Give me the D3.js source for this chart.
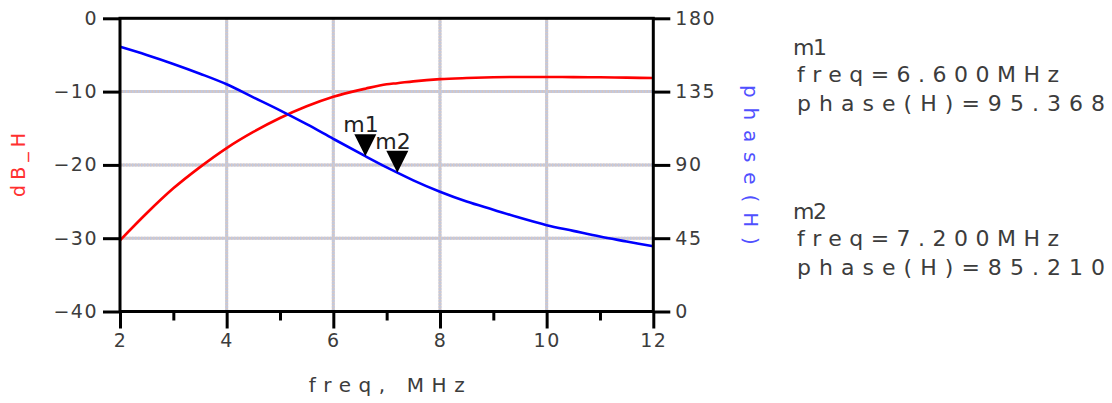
<!DOCTYPE html>
<html>
<head>
<meta charset="utf-8">
<script src="https://cdn.jsdelivr.net/npm/d3@7"></script>
<style>
  html, body { margin: 0; padding: 0; background: #fff; }
  svg { display: block; }
  text { font-family: "DejaVu Sans", "Liberation Sans", sans-serif; fill: #3c3c3c; }
</style>
</head>
<body>
<svg id="chart" width="1112" height="403"></svg>
<script>
// Frequency sweep (MHz)
const freq = [2, 2.5, 3, 3.5, 4, 4.5, 5, 5.5, 6, 6.6, 7, 7.2, 7.5, 8, 8.5, 9, 9.5, 10, 10.5, 11, 11.5, 12];
// Magnitude of H in dB (left axis)
const dbH = [-30.3, -26.6, -23.2, -20.3, -17.7, -15.5, -13.6, -12.0, -10.7, -9.6, -9.0, -8.85, -8.6, -8.3, -8.15, -8.05, -8.0, -8.0, -8.02, -8.05, -8.1, -8.15];
// Phase of H in degrees (right axis)
const phaseH = [162.5, 157.5, 152, 146, 139.5, 131.5, 123.5, 115, 106, 95.368, 88.5, 85.21, 80.5, 73.5, 67.5, 62.5, 57.5, 53, 49.5, 46, 43, 40];

// Axis ticks
const freqTicks = [2, 4, 6, 8, 10, 12];
const freqMinorTicks = [3, 5, 7, 9, 11];
const dbTicks = [0, -10, -20, -30, -40];
const phaseTicks = [0, 45, 90, 135, 180];

// Markers on the phase trace
const markerNames = ["m1", "m2"];
const markerFreq = [6.6, 7.2];
const markerPhase = [95.368, 85.21];

const svg = d3.select("#chart");
const L = 120, R = 653.3, T = 18.3, B = 311.5;

const x = d3.scaleLinear().domain([2, 12]).range([L, R]);
const yL = d3.scaleLinear().domain([-40, 0]).range([B, T]);
const yR = d3.scaleLinear().domain([0, 180]).range([B, T]);

const fmtDb = d => d < 0 ? "\u2212" + Math.abs(d) : String(d);

// grid: two interleaved dotted strokes
const grid = svg.append("g");
function gridLine(x1, y1, x2, y2) {
  grid.append("line").attr("x1", x1).attr("y1", y1).attr("x2", x2).attr("y2", y2)
    .attr("stroke", "#d6c6c2").attr("stroke-width", 3);
  grid.append("line").attr("x1", x1).attr("y1", y1).attr("x2", x2).attr("y2", y2)
    .attr("stroke", "#bfcae3").attr("stroke-width", 3).attr("stroke-dasharray", "1.5,1.5");
}
freqTicks.filter(d => d > 2 && d < 12).forEach(d => gridLine(x(d), T, x(d), B));
dbTicks.filter(d => d > -40 && d < 0).forEach(d => gridLine(L, yL(d), R, yL(d)));

// traces
const lineDb = d3.line().x((d, i) => x(freq[i])).y(d => yL(d)).curve(d3.curveMonotoneX);
const linePh = d3.line().x((d, i) => x(freq[i])).y(d => yR(d)).curve(d3.curveMonotoneX);
svg.append("path").attr("d", lineDb(dbH)).attr("fill", "none").attr("stroke", "#ff0000").attr("stroke-width", 2.6);
svg.append("path").attr("d", linePh(phaseH)).attr("fill", "none").attr("stroke", "#0000ff").attr("stroke-width", 2.6);

// frame
svg.append("rect").attr("x", L).attr("y", T).attr("width", R - L).attr("height", B - T)
  .attr("fill", "none").attr("stroke", "#000").attr("stroke-width", 3);

// axes
function styleAxis(g) {
  g.select(".domain").remove();
  g.selectAll(".tick line").attr("stroke", "#000").attr("stroke-width", 3);
  g.selectAll(".tick text").style("font-size", "19px").style("letter-spacing", "1.5px").attr("fill", "#3c3c3c");
}
svg.append("g").attr("transform", `translate(${L},0)`)
  .call(d3.axisLeft(yL).tickValues(dbTicks).tickFormat(fmtDb).tickSize(17).tickPadding(5))
  .call(styleAxis);
svg.append("g").attr("transform", `translate(${R},0)`)
  .call(d3.axisRight(yR).tickValues(phaseTicks).tickSize(17).tickPadding(5))
  .call(styleAxis);
svg.append("g").attr("transform", `translate(0,${B})`)
  .call(d3.axisBottom(x).tickValues(freqTicks).tickSize(17).tickPadding(5))
  .call(styleAxis);
svg.append("g").attr("transform", `translate(0,${B})`)
  .call(d3.axisBottom(x).tickValues(freqMinorTicks).tickSize(9).tickFormat(""))
  .call(styleAxis);

// axis titles
svg.append("text").attr("transform", `translate(25,${(T + B) / 2}) rotate(-90)`)
  .attr("text-anchor", "middle").style("font-size", "19px").style("fill", "#ff3030")
  .attr("textLength", 64).attr("lengthAdjust", "spacing").text("dB_H");
svg.append("text").attr("transform", `translate(744,${(T + B) / 2}) rotate(90)`)
  .attr("text-anchor", "middle").style("font-size", "20px").style("fill", "#5050ff")
  .attr("textLength", 160).attr("lengthAdjust", "spacing").text("phase(H)");
svg.append("text").attr("x", (L + R) / 2).attr("y", 392)
  .attr("text-anchor", "middle").style("font-size", "20px")
  .attr("textLength", 156).attr("lengthAdjust", "spacing").text("freq, MHz");

// marker triangles and labels
markerNames.forEach((name, i) => {
  const px = x(markerFreq[i]), py = yR(markerPhase[i]);
  svg.append("path").attr("d", `M${px},${py} L${px - 11},${py - 22} L${px + 11},${py - 22} Z`).attr("fill", "#000");
  svg.append("text").attr("x", px - 22).attr("y", py - 24).style("font-size", "22px").style("fill", "#222").text(name);
});

// marker readouts
const blocks = [
  { top: 55, lines: ["m1", "freq=" + markerFreq[0].toFixed(3) + "MHz", "phase(H)=" + markerPhase[0].toFixed(3)] },
  { top: 219, lines: ["m2", "freq=" + markerFreq[1].toFixed(3) + "MHz", "phase(H)=" + markerPhase[1].toFixed(3)] }
];
blocks.forEach(b => {
  svg.append("text").attr("x", 793).attr("y", b.top).style("font-size", "22px")
    .attr("textLength", 34).attr("lengthAdjust", "spacing").text(b.lines[0]);
  svg.append("text").attr("x", 797).attr("y", b.top + 27).style("font-size", "22px")
    .attr("textLength", 262).attr("lengthAdjust", "spacing").text(b.lines[1]);
  svg.append("text").attr("x", 797).attr("y", b.top + 56).style("font-size", "22px")
    .attr("textLength", 308).attr("lengthAdjust", "spacing").text(b.lines[2]);
});
</script>
</body>
</html>
